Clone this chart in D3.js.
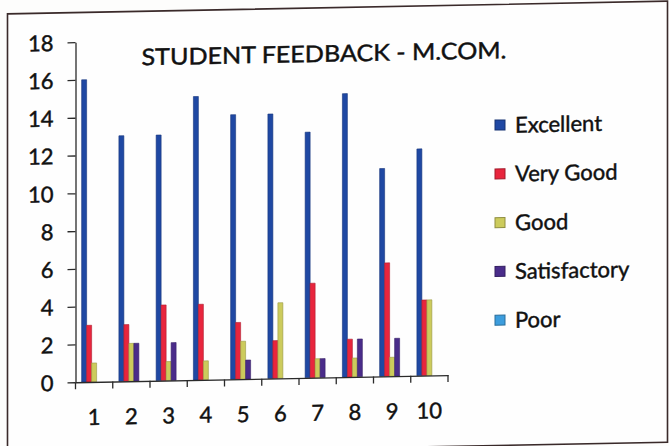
<!DOCTYPE html>
<html>
<head>
<meta charset="utf-8">
<script src="https://cdn.jsdelivr.net/npm/d3@7"></script>
<style>
  html, body { margin: 0; padding: 0; background: #fdfdfc; }
  svg text { font-family: Lato, "Open Sans", sans-serif; fill: #111; stroke: #111; stroke-width: 0.45px; }
</style>
</head>
<body>
<div class="chart-container"></div>
<script>
// data
const categories = ["1", "2", "3", "4", "5", "6", "7", "8", "9", "10"];
const seriesNames = ["Excellent", "Very Good", "Good", "Satisfactory", "Poor"];
const excellent = [16, 13, 13, 15, 14, 14, 13, 15, 11, 12];
const veryGood = [3, 3, 4, 4, 3, 2, 5, 2, 6, 4];
const good = [1, 2, 1, 1, 2, 4, 1, 1, 1, 4];
const satisfactory = [0, 2, 2, 0, 1, 0, 1, 2, 2, 0];
const poor = [0, 0, 0, 0, 0, 0, 0, 0, 0, 0];
const yTicks = [0, 2, 4, 6, 8, 10, 12, 14, 16, 18];
const colors = ["#1f48a3", "#e8253d", "#cccb5c", "#4a2c8a", "#3c9ddd"];

const seriesValues = [excellent, veryGood, good, satisfactory, poor];

const width = 669;
const height = 446;
const plot = { left: 75.5, right: 448, top: 43.6, bottom: 383.7 };

var svg = d3
  .select(".chart-container")
  .append("svg")
  .attr("width", width)
  .attr("height", height);

// the photo is slightly sheared, horizontals fall to the right
var g = svg.append("g").attr("transform", "skewY(-1.1)");

// chart frame
g.append("rect")
  .attr("x", 7.5)
  .attr("y", 14)
  .attr("width", 660)
  .attr("height", 441)
  .style("fill", "#fefefe")
  .style("stroke", "#3a2a2a")
  .style("stroke-width", 1.6);

var x = d3.scaleBand().domain(categories).range([plot.left, plot.right]).padding(0);
var x1 = d3
  .scaleBand()
  .domain(seriesNames)
  .range([0, x.bandwidth()])
  .paddingInner(0)
  .paddingOuter(1.23);
var y = d3.scaleLinear().domain([0, 18]).range([plot.bottom, plot.top]);

// bars
seriesNames.forEach(function(name, si) {
  g.append("g")
    .attr("class", "series")
    .selectAll("rect")
    .data(seriesValues[si])
    .join("rect")
    .attr("x", (d, i) => x(categories[i]) + x1(name))
    .attr("y", d => y(d))
    .attr("width", x1.bandwidth())
    .attr("height", d => y(0) - y(d))
    .style("fill", colors[si])
    .style("stroke", d3.color(colors[si]).darker(0.8))
    .style("stroke-width", 0.6);
});

// Y axis
var yAxis = d3.axisLeft(y).tickValues(yTicks).tickSize(8).tickSizeOuter(0).tickPadding(14);
var yG = g.append("g").attr("class", "y-axis").attr("transform", "translate(" + plot.left + ",0)").call(yAxis);
yG.selectAll("path, line").style("stroke", "#2a2a2a").style("stroke-width", 1.3);
yG.selectAll("text").style("font-size", "22px").attr("dy", "0.36em");

// X axis, labels centred, ticks between categories
var xAxis = d3.axisBottom(x).tickSize(0).tickSizeOuter(0);
var xG = g.append("g").attr("class", "x-axis").attr("transform", "translate(0," + plot.bottom + ")").call(xAxis);
xG.select("path").style("stroke", "#2a2a2a").style("stroke-width", 1.3);
xG.selectAll("text").style("font-size", "22px").attr("y", 43).attr("dy", 0);
var bounds = categories.map(c => x(c)).concat([plot.right]);
xG.selectAll(".bound")
  .data(bounds)
  .join("line")
  .attr("class", "bound")
  .attr("x1", d => d)
  .attr("x2", d => d)
  .attr("y1", 0)
  .attr("y2", 7)
  .style("stroke", "#2a2a2a")
  .style("stroke-width", 1.3);

// title
g.append("text")
  .attr("x", 324)
  .attr("y", 68)
  .attr("text-anchor", "middle")
  .attr("textLength", 365)
  .attr("lengthAdjust", "spacingAndGlyphs")
  .style("font-size", "23px")
  .text("STUDENT FEEDBACK - M.COM.");

// legend
var legend = g
  .append("g")
  .attr("class", "legend")
  .selectAll("g")
  .data(seriesNames)
  .join("g")
  .attr("transform", (d, i) => "translate(495," + (134.6 + i * 48.8) + ")");

legend
  .append("rect")
  .attr("x", 0)
  .attr("y", -5)
  .attr("width", 10)
  .attr("height", 10)
  .style("fill", (d, i) => colors[i])
  .style("stroke", (d, i) => d3.color(colors[i]).darker(1))
  .style("stroke-width", 1);

legend
  .append("text")
  .attr("x", 20)
  .attr("y", 0)
  .attr("dy", "0.36em")
  .style("font-size", "22px")
  .text(d => d);
</script>
</body>
</html>
